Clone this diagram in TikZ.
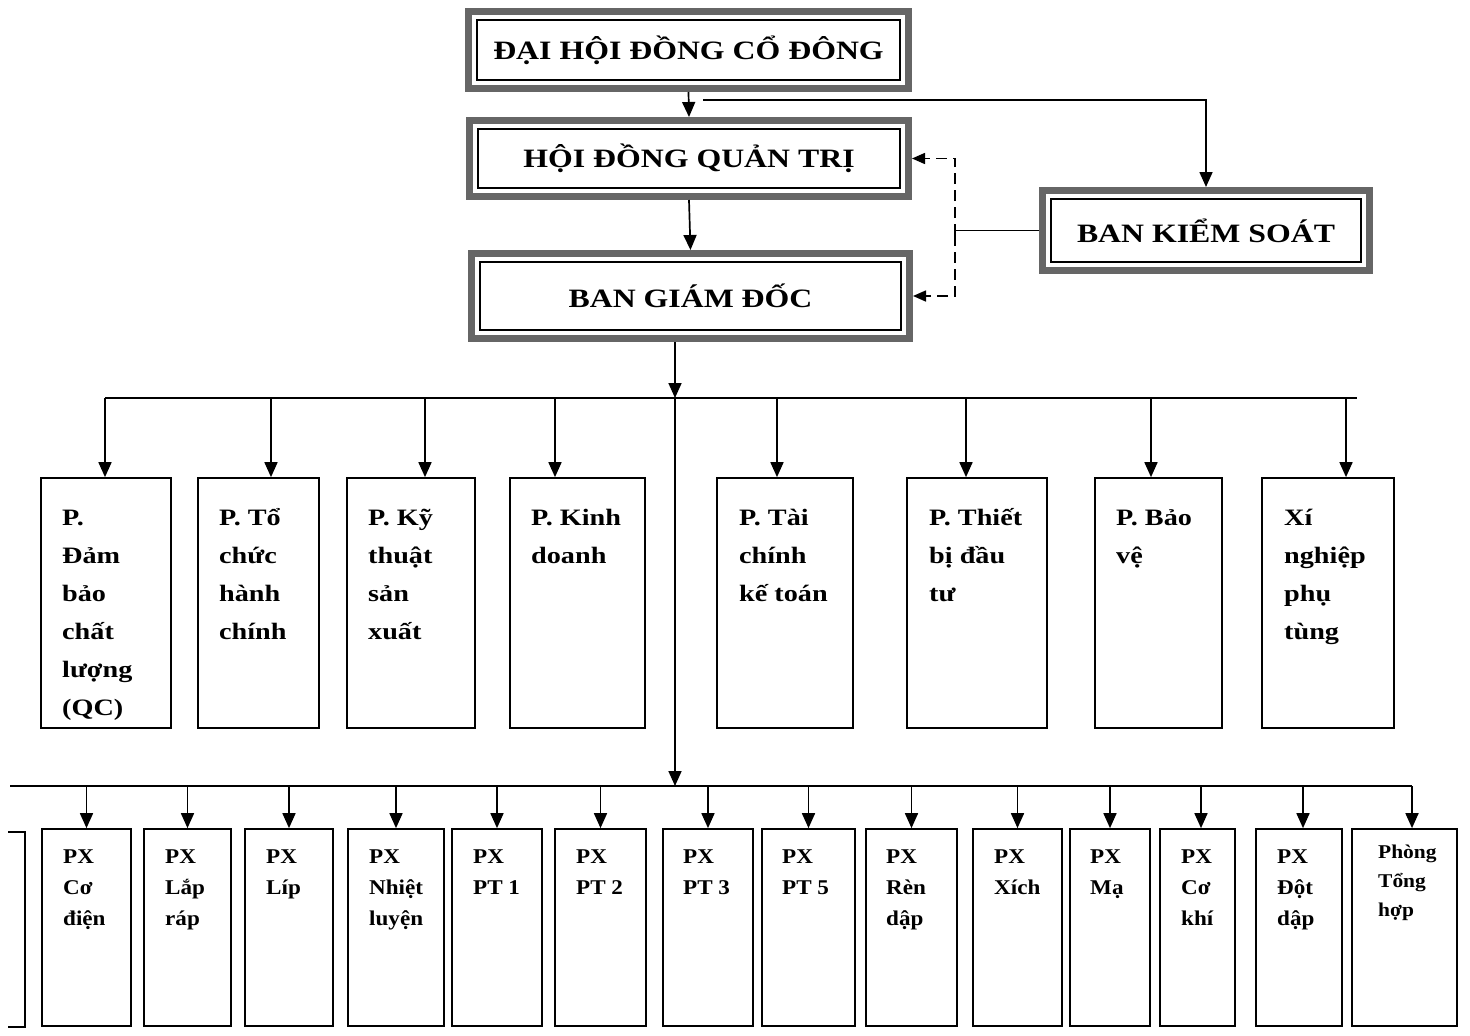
\documentclass[tikz,border=0pt]{standalone}
\usepackage{fontspec}
\setmainfont{Liberation Serif}
\newfontfamily\widefont[FakeStretch=1.2]{Liberation Serif}
\newfontfamily\midfont[FakeStretch=1.1]{Liberation Serif}
\usetikzlibrary{arrows.meta}
\definecolor{framegray}{gray}{0.40}
\tikzset{
  conn/.style={line width=1.7pt, -{Triangle[length=15pt,width=13pt]}},
  plainline/.style={line width=1.7pt},
  dashconn/.style={line width=1.6pt, dash pattern=on 11pt off 6pt, -{Triangle[length=13pt,width=11pt]}},
  bigbox/.style={draw=framegray, line width=7pt, outer sep=3.5pt, inner sep=0pt, fill=white,
    font=\widefont\bfseries\fontsize{26.5}{30}\selectfont,
    path picture={\draw[black, line width=1.4pt]
      ([shift={(8.5pt,8.5pt)}]path picture bounding box.south west) rectangle
      ([shift={(-8.5pt,-8.5pt)}]path picture bounding box.north east);}},
  pbox/.style={draw, line width=1.7pt, inner sep=0pt, minimum height=250pt},
  bbox/.style={draw, line width=1.7pt, inner sep=0pt, minimum height=197pt},
  ttext/.style={anchor=base west, inner sep=0pt, font=\widefont\bfseries\fontsize{23.5}{38}\selectfont},
  btext/.style={anchor=base west, inner sep=0pt, font=\midfont\bfseries\fontsize{21}{31}\selectfont},
  ctext/.style={anchor=base west, inner sep=0pt, font=\midfont\bfseries\fontsize{19.5}{29}\selectfont}
}
\begin{document}
\begin{tikzpicture}[x=1pt, y=-1pt]
\useasboundingbox (0,0) rectangle (1470,1036);
\fill[white] (0,0) rectangle (1470,1036);

% ---------- top management boxes ----------
\node[bigbox, minimum width=440pt, minimum height=77pt] (dhd) at (688.5,50) {ĐẠI HỘI ĐỒNG CỔ ĐÔNG};
\node[bigbox, minimum width=439pt, minimum height=76pt] (hdqt) at (689,158.5) {HỘI ĐỒNG QUẢN TRỊ};
\node[bigbox, minimum width=438pt, minimum height=85pt] (bgd) at (690.5,296) {BAN GIÁM ĐỐC};
\node[bigbox, minimum width=327pt, minimum height=80pt] (bks) at (1206,230.5) {BAN KIỂM SOÁT};

\coordinate (kstart) at (703,100);
\coordinate (dmid) at (955,235);

\draw[conn] (dhd.south) -- (hdqt.north);
\draw[conn] (hdqt.south) -- (bgd.north);
\draw[conn] (kstart) -| (bks.north);
\draw[plainline] (bks.west) -- (bks.west -| dmid);
\draw[dashconn] (dmid) |- (hdqt.east);
\draw[dashconn] (dmid) |- (bgd.east);

% ---------- departments (top row) ----------
\node[pbox, minimum width=130pt] (p1) at (106,603) {};
\node[pbox, minimum width=121pt] (p2) at (258.5,603) {};
\node[pbox, minimum width=128pt] (p3) at (411,603) {};
\node[pbox, minimum width=135pt] (p4) at (577.5,603) {};
\node[pbox, minimum width=136pt] (p5) at (785,603) {};
\node[pbox, minimum width=140pt] (p6) at (977,603) {};
\node[pbox, minimum width=127pt] (p7) at (1158.5,603) {};
\node[pbox, minimum width=132pt] (p8) at (1328,603) {};

\node[ttext] (t1) at (62,525) {\parbox[t]{110pt}{P.\\Đảm\\bảo\\chất\\lượng\\(QC)}};
\node[ttext] (t2) at (219,525) {\parbox[t]{100pt}{P. Tổ\\chức\\hành\\chính}};
\node[ttext] (t3) at (368,525) {\parbox[t]{105pt}{P. Kỹ\\thuật\\sản\\xuất}};
\node[ttext] (t4) at (531,525) {\parbox[t]{112pt}{P. Kinh\\doanh}};
\node[ttext] (t5) at (739,525) {\parbox[t]{112pt}{P. Tài\\chính\\kế toán}};
\node[ttext] (t6) at (929,525) {\parbox[t]{115pt}{P. Thiết\\bị đầu\\tư}};
\node[ttext] (t7) at (1116,525) {\parbox[t]{105pt}{P. Bảo\\vệ}};
\node[ttext] (t8) at (1284,525) {\parbox[t]{108pt}{Xí\\nghiệp\\phụ\\tùng}};

% top bus
\coordinate (tbL) at (105,398);
\coordinate (tbR) at (1357,398);
\coordinate (tb0) at (675,398);
\coordinate (d2) at (271,398);
\coordinate (d3) at (425,398);
\coordinate (d4) at (555,398);
\coordinate (d5) at (777,398);
\coordinate (d6) at (966,398);
\coordinate (d7) at (1151,398);
\coordinate (d8) at (1346,398);
\draw[plainline] (tbL) -- (tbR);
\draw[conn] (tbL) -- (tbL |- p1.north);
\draw[conn] (d2) -- (d2 |- p2.north);
\draw[conn] (d3) -- (d3 |- p3.north);
\draw[conn] (d4) -- (d4 |- p4.north);
\draw[conn] (d5) -- (d5 |- p5.north);
\draw[conn] (d6) -- (d6 |- p6.north);
\draw[conn] (d7) -- (d7 |- p7.north);
\draw[conn] (d8) -- (d8 |- p8.north);

% main vertical from BGD
\coordinate (bb0) at (675,786);
\draw[conn] (bgd.south -| tb0) -- (tb0);
\draw[conn] (tb0) -- (bb0);

% ---------- workshops (bottom row) ----------
\draw[line width=1.7pt] (8,832) -| (25,1027) -- (8,1027);

\node[bbox, minimum width=89pt] (b1) at (86.5,927.5) {};
\node[bbox, minimum width=87pt] (b2) at (187.5,927.5) {};
\node[bbox, minimum width=88pt] (b3) at (289,927.5) {};
\node[bbox, minimum width=96pt] (b4) at (396,927.5) {};
\node[bbox, minimum width=90pt] (b5) at (497,927.5) {};
\node[bbox, minimum width=91pt] (b6) at (600.5,927.5) {};
\node[bbox, minimum width=90pt] (b7) at (708,927.5) {};
\node[bbox, minimum width=93pt] (b8) at (808.5,927.5) {};
\node[bbox, minimum width=91pt] (b9) at (911.5,927.5) {};
\node[bbox, minimum width=89pt] (b10) at (1017.5,927.5) {};
\node[bbox, minimum width=80pt] (b11) at (1110,927.5) {};
\node[bbox, minimum width=75pt] (b12) at (1197.5,927.5) {};
\node[bbox, minimum width=86pt] (b13) at (1299,927.5) {};
\node[bbox, minimum width=105pt] (b14) at (1404.5,927.5) {};

\node[btext] (s1) at (63,863) {\parbox[t]{70pt}{PX\\Cơ\\điện}};
\node[btext] (s2) at (165,863) {\parbox[t]{70pt}{PX\\Lắp\\ráp}};
\node[btext] (s3) at (266,863) {\parbox[t]{70pt}{PX\\Líp}};
\node[btext] (s4) at (369,863) {\parbox[t]{75pt}{PX\\Nhiệt\\luyện}};
\node[btext] (s5) at (473,863) {\parbox[t]{70pt}{PX\\PT 1}};
\node[btext] (s6) at (576,863) {\parbox[t]{70pt}{PX\\PT 2}};
\node[btext] (s7) at (683,863) {\parbox[t]{70pt}{PX\\PT 3}};
\node[btext] (s8) at (782,863) {\parbox[t]{70pt}{PX\\PT 5}};
\node[btext] (s9) at (886,863) {\parbox[t]{70pt}{PX\\Rèn\\dập}};
\node[btext] (s10) at (994,863) {\parbox[t]{70pt}{PX\\Xích}};
\node[btext] (s11) at (1090,863) {\parbox[t]{60pt}{PX\\Mạ}};
\node[btext] (s12) at (1181,863) {\parbox[t]{55pt}{PX\\Cơ\\khí}};
\node[btext] (s13) at (1277,863) {\parbox[t]{65pt}{PX\\Đột\\dập}};
\node[ctext] (s14) at (1378,858) {\parbox[t]{75pt}{Phòng\\Tổng\\hợp}};

% bottom bus
\coordinate (bbL) at (10,786);
\coordinate (e14) at (1412,786);
\draw[plainline] (bbL) -- (e14);
\draw[conn] (b1.north |- bbL) -- (b1.north);
\draw[conn] (b2.north |- bbL) -- (b2.north);
\draw[conn] (b3.north |- bbL) -- (b3.north);
\draw[conn] (b4.north |- bbL) -- (b4.north);
\draw[conn] (b5.north |- bbL) -- (b5.north);
\draw[conn] (b6.north |- bbL) -- (b6.north);
\draw[conn] (b7.north |- bbL) -- (b7.north);
\draw[conn] (b8.north |- bbL) -- (b8.north);
\draw[conn] (b9.north |- bbL) -- (b9.north);
\draw[conn] (b10.north |- bbL) -- (b10.north);
\draw[conn] (b11.north |- bbL) -- (b11.north);
\draw[conn] ([xshift=3.5pt]b12.north |- bbL) -- ([xshift=3.5pt]b12.north);
\draw[conn] ([xshift=4pt]b13.north |- bbL) -- ([xshift=4pt]b13.north);
\draw[conn] (e14) -- (e14 |- b14.north);
\end{tikzpicture}
\end{document}
